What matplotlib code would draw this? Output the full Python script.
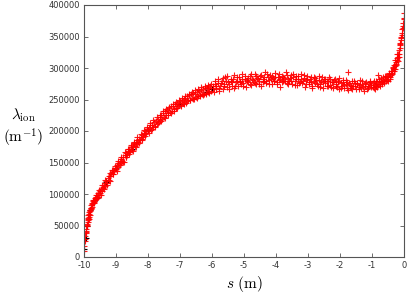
import numpy as np
import matplotlib
matplotlib.use("Agg")
import matplotlib.pyplot as plt

plt.rcParams['mathtext.fontset'] = 'cm'
plt.rcParams['axes.unicode_minus'] = False

# ---- data (lambda in thousands of m^-1) ----
s_red = [-10.00, -9.99, -9.98, -9.97, -9.96, -9.95, -9.94, -9.93, -9.92, -9.91, -9.90, -9.89, -9.88, -9.87,
         -9.86, -9.85, -9.84, -9.83, -9.82, -9.81, -9.80, -9.79, -9.78, -9.77, -9.76, -9.75, -9.74, -9.73,
         -9.72, -9.70, -9.69, -9.67, -9.65, -9.63, -9.61, -9.59, -9.57, -9.55, -9.53, -9.51, -9.49,
         -9.47, -9.45, -9.42, -9.40, -9.38, -9.35, -9.33, -9.30, -9.28, -9.25, -9.23, -9.20, -9.18, -9.15,
         -9.13, -9.10, -9.08, -9.05, -9.03, -9.00, -8.98, -8.95, -8.93, -8.90, -8.88, -8.85, -8.83, -8.80,
         -8.78, -8.75, -8.73, -8.70, -8.68, -8.65, -8.63, -8.60, -8.58, -8.55, -8.53, -8.50, -8.48, -8.45,
         -8.43, -8.40, -8.38, -8.35, -8.33, -8.30, -8.28, -8.25, -8.23, -8.20, -8.18, -8.15, -8.13, -8.10,
         -8.08, -8.05, -8.03, -8.00,
         -7.97, -7.94, -7.91, -7.88, -7.85, -7.82, -7.79, -7.76, -7.73, -7.70, -7.67, -7.64, -7.61, -7.58,
         -7.55, -7.52, -7.49, -7.46, -7.43, -7.40, -7.37, -7.34, -7.31, -7.28, -7.25, -7.22, -7.19, -7.16,
         -7.13, -7.10, -7.07, -7.04, -7.01, -6.98, -6.95, -6.92, -6.89, -6.86, -6.83, -6.80, -6.77, -6.74,
         -6.71, -6.68, -6.65, -6.62, -6.59, -6.56, -6.53, -6.50, -6.47, -6.44, -6.41, -6.38, -6.35, -6.32,
         -6.29, -6.26, -6.23, -6.20, -6.17, -6.14, -6.11, -6.08, -6.05, -6.02,
         -5.98, -5.94, -5.90, -5.86, -5.82, -5.78, -5.74, -5.70, -5.66, -5.62, -5.58, -5.54, -5.50, -5.46,
         -5.42, -5.38, -5.34, -5.30, -5.26, -5.22, -5.18, -5.14, -5.10, -5.06, -5.02, -4.98, -4.94, -4.90,
         -4.86, -4.82, -4.78, -4.74, -4.70, -4.66, -4.62, -4.58, -4.54, -4.50, -4.46, -4.42, -4.38, -4.34,
         -4.30, -4.26, -4.22, -4.18, -4.14, -4.10, -4.06, -4.02, -3.98, -3.94, -3.90, -3.86, -3.82, -3.78,
         -3.74, -3.70, -3.66, -3.62, -3.58, -3.54, -3.50, -3.46, -3.42, -3.38, -3.34, -3.30, -3.26, -3.22,
         -3.18, -3.14, -3.10, -3.06, -3.02, -2.98, -2.94, -2.90, -2.86, -2.82, -2.78, -2.74, -2.70, -2.66,
         -2.62, -2.58, -2.54, -2.50, -2.46, -2.42, -2.38, -2.34, -2.30, -2.26, -2.22, -2.18, -2.14, -2.10,
         -2.06, -2.02, -1.98, -1.94, -1.90, -1.86, -1.82, -1.78, -1.75, -1.74, -1.70, -1.66, -1.62, -1.58,
         -1.54, -1.50, -1.46, -1.42, -1.38, -1.34, -1.30, -1.26, -1.22, -1.18, -1.14, -1.10, -1.06, -1.02,
         -0.98, -0.95, -0.92, -0.89, -0.86, -0.83, -0.81, -0.80, -0.77, -0.74, -0.71, -0.68, -0.65, -0.62,
         -0.59, -0.56, -0.53, -0.50, -0.47, -0.44, -0.41, -0.38, -0.35, -0.32, -0.30, -0.28, -0.26, -0.24,
         -0.22, -0.20, -0.18, -0.16, -0.14, -0.12, -0.10, -0.08, -0.06, -0.04, -0.02, -0.01, 0.00, 0.00]

lam_red_k = [9, 17, 26, 33, 29, 38, 44, 41, 49, 53, 51, 58, 55, 62,
             66, 61, 69, 72, 67, 75, 73, 78, 82, 77, 84, 80, 86, 89,
             85, 91, 87, 93, 90, 96, 92, 99, 96, 101, 98, 105, 102,
             108, 104, 111, 109, 115, 112, 118, 121, 117, 125, 122, 129, 133, 132,
             135, 131, 138, 136, 141, 139, 146, 143, 149, 147, 152, 150, 156, 153,
             159, 151, 162, 159, 165, 162, 168, 166, 171, 168, 174, 170, 176, 181,
             179, 176, 182, 180, 185, 182, 188, 186, 191, 188, 194, 191, 197, 195,
             200, 197, 203, 200,
             205, 209, 201, 210, 207, 214, 208, 216, 211, 219, 214, 222, 217, 225,
             219, 228, 223, 231, 225, 233, 228, 236, 230, 239, 232, 240, 235, 243,
             237, 245, 239, 241, 247, 242, 249, 244, 251, 246, 253, 245, 255, 249,
             257, 250, 258, 252, 260, 251, 259, 254, 262, 255, 263, 257, 265, 258,
             266, 259, 268, 261, 269, 262, 270, 263, 271, 264,
             272, 262, 274, 266, 276, 263, 271, 279, 267, 275, 285, 270, 278, 266,
             280, 272, 283, 269, 277, 286, 271, 280, 274, 290, 276, 283, 270, 281,
             277, 287, 273, 282, 278, 291, 275, 284, 279, 288, 272, 283, 280, 294,
             276, 285, 281, 289, 274, 284, 279, 292, 277, 286, 281, 270, 288, 279,
             284, 293, 276, 283, 280, 289, 274, 285, 279, 287, 273, 282, 278, 291,
             276, 284, 270, 281, 287, 275, 283, 278, 268, 285, 276, 281, 272, 288,
             274, 280, 269, 283, 276, 279, 271, 285, 273, 278, 268, 281, 275, 270,
             279, 266, 276, 271, 281, 268, 274, 278, 294, 265, 273, 269, 279, 271,
             276, 266, 274, 270, 281, 268, 275, 263, 272, 277, 269, 274, 280, 270,
             276, 268, 273, 279, 271, 277, 289, 273, 282, 275, 280, 277, 285, 279,
             283, 288, 281, 287, 292, 285, 296, 290, 300, 295, 305, 299, 309, 304,
             316, 311, 322, 318, 331, 336, 345, 350, 356, 363, 372, 380, 388, 377]

s_red2 = [-9.93, -9.88, -9.83, -9.78, -9.73, -9.68, -9.63, -9.58, -9.53, -9.48, -9.43, -9.38, -9.33, -9.28,
          -9.23, -9.18, -9.13, -9.08, -9.03, -8.98, -8.93, -8.88, -8.83, -8.78, -8.73, -8.68, -8.63, -8.58,
          -8.53, -8.48, -8.43, -8.38, -8.33, -8.28, -8.23, -8.18, -8.13, -8.08, -8.03, -7.98, -7.93, -7.88,
          -7.83, -7.78, -7.73, -7.68, -7.63, -7.58, -7.53, -7.48, -7.43, -7.38, -7.33, -7.28, -7.23, -7.18,
          -7.13, -7.08, -7.03, -6.98, -6.93, -6.88, -6.83, -6.78, -6.73, -6.68, -6.63, -6.58, -6.53, -6.48,
          -6.43, -6.38, -6.33, -6.28, -6.23, -6.18, -6.13, -6.08, -6.03,
          -5.97, -5.92, -5.87, -5.82, -5.77, -5.72, -5.67, -5.62, -5.57, -5.52, -5.47, -5.42, -5.37, -5.32,
          -5.27, -5.22, -5.17, -5.12, -5.07, -5.02, -4.97, -4.92, -4.87, -4.82, -4.77, -4.72, -4.67, -4.62,
          -4.57, -4.52, -4.47, -4.42, -4.37, -4.32, -4.27, -4.22, -4.17, -4.12, -4.07, -4.02, -3.97, -3.92,
          -3.87, -3.82, -3.77, -3.72, -3.67, -3.62, -3.57, -3.52, -3.47, -3.42, -3.37, -3.32, -3.27, -3.22,
          -3.17, -3.12, -3.07, -3.02, -2.97, -2.92, -2.87, -2.82, -2.77, -2.72, -2.67, -2.62, -2.57, -2.52,
          -2.47, -2.42, -2.37, -2.32, -2.27, -2.22, -2.17, -2.12, -2.07, -2.02, -1.97, -1.92, -1.87, -1.82,
          -1.77, -1.72, -1.67, -1.62, -1.57, -1.52, -1.47, -1.42, -1.37, -1.32, -1.27, -1.22, -1.17, -1.12,
          -1.07, -1.02,
          -0.97, -0.93, -0.90, -0.87, -0.84, -0.79, -0.76, -0.72, -0.69, -0.66, -0.63, -0.60, -0.57, -0.54,
          -0.51, -0.48, -0.45, -0.42, -0.39, -0.36, -0.33, -0.31, -0.29, -0.27, -0.25, -0.23, -0.21, -0.19,
          -0.17, -0.15, -0.13, -0.11, -0.09, -0.07, -0.05, -0.03]

lam_red2_k = [40, 60, 64, 76, 90, 85, 99, 93, 106, 99, 114, 108, 122, 114,
              129, 121, 138, 131, 145, 137, 153, 146, 159, 151, 167, 158, 171, 163,
              178, 169, 183, 175, 190, 181, 195, 186, 201, 192, 207, 197, 212, 203,
              217, 207, 222, 212, 226, 216, 231, 221, 235, 225, 238, 229, 243, 232,
              246, 236, 250, 239, 253, 243, 256, 247, 259, 249, 262, 251, 265, 253,
              267, 255, 270, 257, 272, 259, 273, 260, 275,
              268, 279, 271, 283, 269, 276, 284, 272, 280, 287, 274, 282, 277, 289,
              272, 280, 285, 277, 283, 271, 288, 279, 284, 275, 290, 281, 276, 287,
              282, 274, 289, 278, 285, 280, 291, 275, 283, 288, 279, 285, 274, 290,
              282, 277, 286, 280, 289, 275, 284, 279, 291, 273, 282, 287, 276, 283,
              279, 289, 274, 282, 278, 286, 272, 280, 284, 275, 281, 270, 286, 277,
              282, 272, 279, 283, 270, 277, 282, 272, 278, 284, 269, 277, 273, 281,
              268, 276, 272, 266, 279, 271, 276, 266, 273, 279, 270, 276, 266, 272,
              277, 273,
              270, 279, 267, 275, 270, 279, 272, 284, 275, 281, 276, 287, 280, 285,
              279, 290, 283, 289, 295, 292, 302, 298, 303, 312, 307, 312, 322, 317,
              328, 322, 338, 340, 348, 353, 362, 366]

s_black = [-10.0, -9.95, -9.9, -9.8, -9.6, -9.3, -9.0, -8.5, -8.0, -7.0, -6.2, -6.0]
lam_black_k = [12, 30, 50, 74, 94, 119, 142, 172, 202, 243, 262, 266]

xticks = [-10, -9, -8, -7, -6, -5, -4, -3, -2, -1, 0]
yticks = [0, 50000, 100000, 150000, 200000, 250000, 300000, 350000, 400000]

lam_red = np.array(lam_red_k) * 1000
lam_red2 = np.array(lam_red2_k) * 1000
lam_black = np.array(lam_black_k) * 1000

fig = plt.figure(figsize=(4.15, 2.95), dpi=100)
ax = fig.add_axes([84/415, 1-257/295, 320/415, 252/295])

ax.plot(s_black, lam_black, linestyle='none', marker='+', color='black',
        markersize=5, markeredgewidth=0.8)
ax.plot(s_red2, lam_red2, linestyle='none', marker='+', color='#ff0000',
        markersize=5, markeredgewidth=0.8, alpha=0.9)
ax.plot(s_red, lam_red, linestyle='none', marker='+', color='#ff0000',
        markersize=5, markeredgewidth=0.8, alpha=0.9)

ax.set_xlim(-10, 0)
ax.set_ylim(0, 400000)
ax.set_xticks(xticks)
ax.set_xticklabels([str(t) for t in xticks])
ax.set_yticks(yticks)
ax.set_yticklabels([str(t) for t in yticks])
ax.tick_params(direction='in', length=3, width=0.6, color='#555555',
               labelsize=6, labelcolor='#333333', top=True, right=True, pad=3)
for sp in ax.spines.values():
    sp.set_color('#555555')
    sp.set_linewidth(0.8)

fig.text(244/415, 1-284/295, r'$s\ (\mathrm{m})$', ha='center', va='center', fontsize=11)
fig.text(23/415, 1-115/295, r'$\lambda_{\rm ion}$', ha='center', va='center', fontsize=11)
fig.text(23/415, 1-138/295, r'$(\mathrm{m}^{-1})$', ha='center', va='center', fontsize=11)

fig.savefig('out.png', dpi=100)
